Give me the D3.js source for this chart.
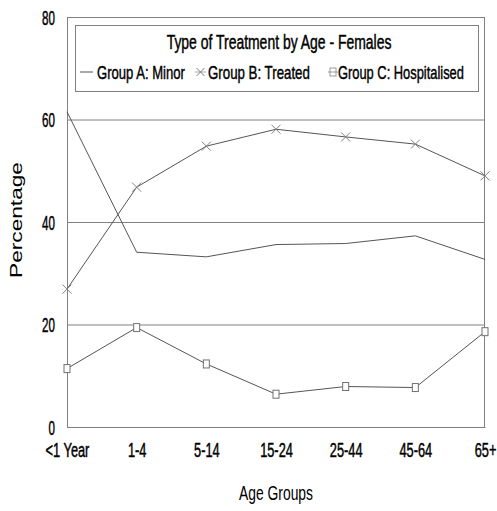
<!DOCTYPE html>
<html><head><meta charset="utf-8">
<script src="https://cdn.jsdelivr.net/npm/d3@7"></script>
<style>body{margin:0;background:#fff}svg{display:block}</style>
</head><body>
<svg id="c" width="497" height="511"></svg>
<script>
const categories = ["<1 Year","1-4","5-14","15-24","25-44","45-64","65+"];
const groupA = [61.5,34.1,33.2,35.6,35.8,37.3,32.7];
const groupB = [26.9,46.8,54.8,58.1,56.6,55.2,49.0];
const groupC = [11.4,19.4,12.3,6.4,7.9,7.7,18.6];
const yTicks = [0,20,40,60,80];
const seriesNames = ["Group A: Minor","Group B: Treated","Group C: Hospitalised"];
const chartTitle = "Type of Treatment by Age - Females";

const svg = d3.select("#c");
const L=67,R=485,T=17,B=427;
const x = d3.scalePoint().domain(categories).range([L,R]).padding(0);
const y = d3.scaleLinear().domain([0,80]).range([B,T]);
const FONT = "'Liberation Sans',Arial,sans-serif";

// text condensed horizontally to a target width
function ctext(parent, str, px, py, size, width, anchor, bold){
  const g = parent.append("g").attr("transform",`translate(${px},${py})`);
  const t = g.append("text").attr("font-family",FONT).attr("font-size",size).attr("fill","#000")
    .attr("text-anchor",anchor||"start").text(str);
  if(bold!==false) t.attr("stroke","#000").attr("stroke-width",0.45);
  const nat = t.node().getComputedTextLength();
  g.attr("transform",`translate(${px},${py}) scale(${width/nat},1)`);
  return g;
}

// y axis with gridlines
const ya = svg.append("g").attr("transform",`translate(${L},0)`)
  .call(d3.axisLeft(y).tickValues(yTicks).tickSize(-(R-L)).tickFormat(d3.format("d")));
ya.select(".domain").remove();
ya.selectAll("line").attr("stroke","#808080").attr("stroke-width",1);
ya.selectAll("text").remove();
const yk = 0.58;
ya.selectAll(".tick").append("text").attr("font-family",FONT).attr("font-size",20).attr("fill","#000")
  .attr("stroke","#000").attr("stroke-width",0.5)
  .attr("text-anchor","end").attr("transform",`scale(${yk},1)`).attr("x",-12/yk).attr("dy","0.36em")
  .text(d=>d3.format("d")(d));

// frame
svg.append("rect").attr("x",L+0.5).attr("y",T+0.5).attr("width",R-L-1).attr("height",B-T)
  .attr("fill","none").attr("stroke","#808080");

// x axis
const xa = svg.append("g").attr("transform",`translate(0,${B})`)
  .call(d3.axisBottom(x).tickSize(0).tickPadding(15));
xa.select(".domain").attr("stroke","#808080");
xa.selectAll("text").attr("font-family",FONT).attr("font-size",21).attr("fill","#000")
  .attr("stroke","#000").attr("stroke-width",0.5)
  .attr("transform","scale(0.61,1)");

// series
const line = d3.line().x((d,i)=>x(categories[i])).y(d=>y(d));
[groupA,groupB,groupC].forEach(s=>{
  svg.append("path").datum(s).attr("d",line).attr("fill","none").attr("stroke","#555").attr("stroke-width",1);
});
function cross(g,cx,cy,r){
  g.append("path").attr("d",`M${cx-r},${cy-r}L${cx+r},${cy+r}M${cx-r},${cy+r}L${cx+r},${cy-r}`)
   .attr("stroke","#808080").attr("fill","none").attr("stroke-width",1);
}
groupB.forEach((v,i)=>cross(svg,x(categories[i]),y(v),4.5));
groupC.forEach((v,i)=>{
  svg.append("rect").attr("x",x(categories[i])-3).attr("y",y(v)-4).attr("width",6).attr("height",8)
    .attr("fill","#fff").attr("stroke","#707070");
});

// legend
svg.append("rect").attr("x",75.5).attr("y",25.5).attr("width",403).attr("height",66)
  .attr("fill","#fff").attr("stroke","#808080");
ctext(svg, chartTitle, 279, 49, 19.5, 225, "middle");
const ly=72;
svg.append("line").attr("x1",80).attr("x2",93).attr("y1",ly).attr("y2",ly).attr("stroke","#555");
ctext(svg, seriesNames[0], 97, 79, 19, 88);
svg.append("line").attr("x1",195).attr("x2",206).attr("y1",ly).attr("y2",ly).attr("stroke","#aaa");
cross(svg,200.5,ly,4);
ctext(svg, seriesNames[1], 208, 79, 19, 102);
svg.append("line").attr("x1",328).attr("x2",338).attr("y1",ly).attr("y2",ly).attr("stroke","#999");
svg.append("rect").attr("x",330).attr("y",ly-4).attr("width",6).attr("height",8).attr("fill","none").attr("stroke","#999");
ctext(svg, seriesNames[2], 338, 79, 19, 126);

// axis titles
const yl = svg.append("g").attr("transform","translate(22,220) rotate(-90)");
ctext(yl, "Percentage", 0, 0, 17, 116, "middle", false);
ctext(svg, "Age Groups", 276, 500, 19.5, 74, "middle", false);
</script>
</body></html>
